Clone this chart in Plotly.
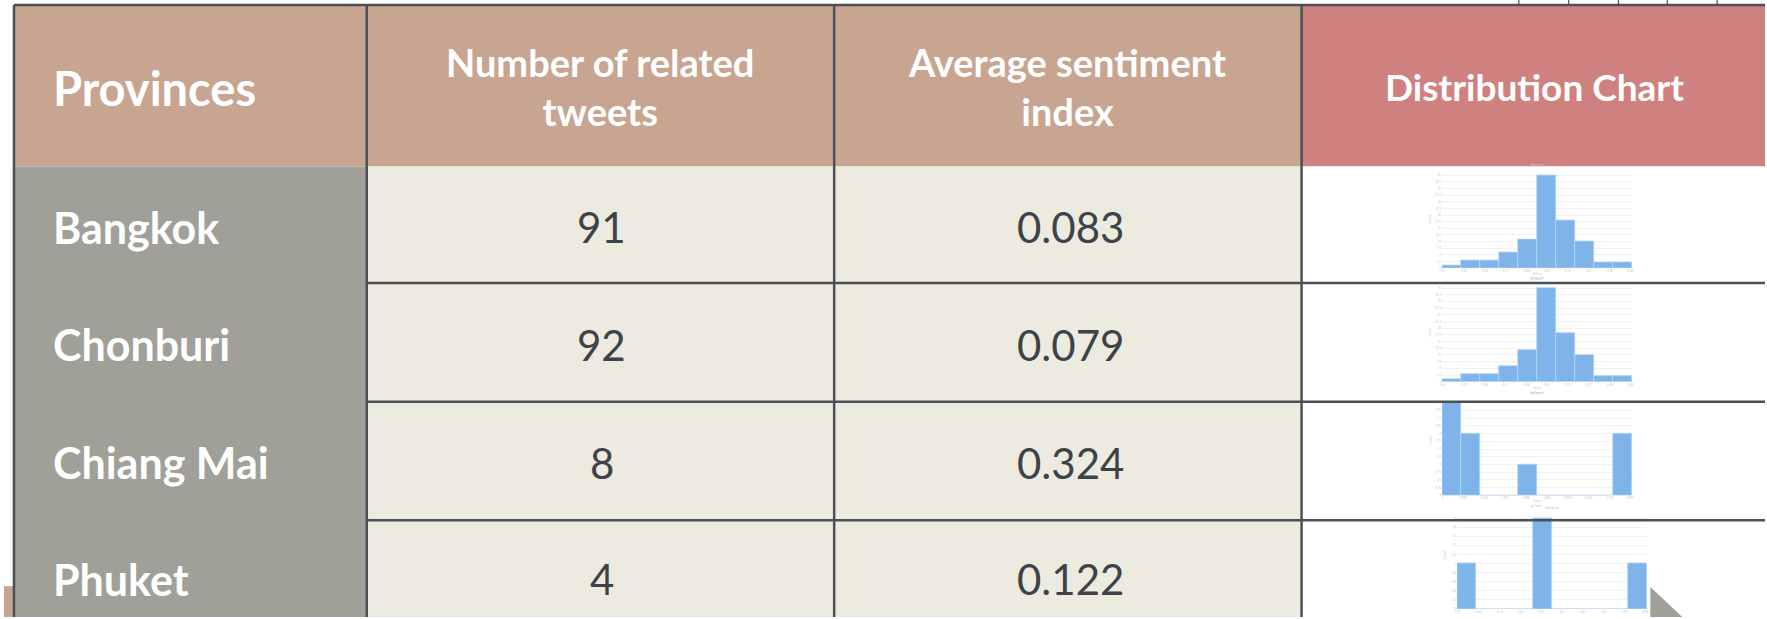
import plotly.graph_objects as go

W, H = 1767, 619

# ---------------- data ----------------
provinces = ["Bangkok", "Chonburi", "Chiang Mai", "Phuket"]
tweet_counts = [91, 92, 8, 4]
avg_sentiment = ["0.083", "0.079", "0.324", "0.122"]
headers = ["Provinces", "Number of related<br>tweets", "Average sentiment<br>index", "Distribution Chart"]

# histogram bin counts (10 bins each)
bangkok_bins = [1, 3, 3, 6, 11, 35, 18, 10, 2, 2]
chonburi_bins = [1, 3, 3, 6, 12, 35, 18, 10, 2, 2]
chiangmai_bins = [3, 2, 0, 0, 1, 0, 0, 0, 0, 2]
phuket_bins = [1, 0, 0, 0, 2, 0, 0, 0, 0, 1]
# bin start and width (sentiment index) for each histogram
bin_start = [-0.5, -0.5, 0.0, -0.35]
bin_width = [0.1, 0.1, 0.09, 0.1]
hist_counts = [bangkok_bins, chonburi_bins, chiangmai_bins, phuket_bins]

# ---------------- helpers ----------------
def X(px):
    return px / W

def Y(py):
    return 1 - py / H

TAN = "#C8A591"
PINK = "#CF8180"
GREY = "#A0A098"
CREAM = "#EDEADF"
LINE = "#4A5055"
TEXT = "#3D4347"
BLUE = "#7EB4EA"

fig = go.Figure()

shapes = []
def rect(x0, y0, x1, y1, color, layer="below"):
    shapes.append(dict(type="rect", xref="paper", yref="paper",
                       x0=X(x0), x1=X(x1), y0=Y(y1), y1=Y(y0),
                       fillcolor=color, line=dict(width=0), layer=layer))

def line(x0, y0, x1, y1, w=2, color=LINE):
    shapes.append(dict(type="line", xref="paper", yref="paper",
                       x0=X(x0), x1=X(x1), y0=Y(y0), y1=Y(y1),
                       line=dict(color=color, width=w), layer="above"))

# table geometry (pixels)
left, top = 10, 5
cols = [10, 364, 833, 1302, 1767]
header_bottom = 167
rows = [167, 284, 403, 522, 641]

# backgrounds
rect(cols[0], top, cols[3], header_bottom, TAN)
rect(cols[3], top, cols[4], header_bottom, PINK)
rect(cols[0], header_bottom, cols[1], H, GREY)
rect(cols[1], header_bottom, cols[3], H, CREAM)
rect(cols[3], header_bottom, cols[4], H, "#FFFFFF")
# decorative bits at page edges
rect(0, 588, 9, H, TAN)
shapes.append(dict(type="path", xref="paper", yref="paper",
                   path=f"M {X(1652)} {Y(589)} L {X(1684)} {Y(619)} L {X(1652)} {Y(619)} Z",
                   fillcolor=GREY, line=dict(width=0), layer="above"))

# borders
line(left, top, W, top, 2.5)
for cx in cols[:4]:
    line(cx, top, cx, H, 2.5)
for ry in rows[1:4]:
    line(cols[1], ry, W, ry, 2.5)
for vx in [1520, 1570, 1620, 1669, 1719]:
    line(vx, 0, vx, top, 1.2)

annotations = []
def text(x, y, s, size, color="#FFFFFF", bold=False, xanchor="center", family="Lato"):
    annotations.append(dict(xref="paper", yref="paper", x=X(x), y=Y(y), text=(f"<b>{s}</b>" if bold else s),
                            showarrow=False, xanchor=xanchor, yanchor="middle", align="center",
                            font=dict(family=family, size=size, color=color)))

# headers
text(47, 88, headers[0], 47, bold=True, xanchor="left")
text(598, 87, headers[1], 38, bold=True)
text(1067, 87, headers[2], 38, bold=True)
text(1536, 87, headers[3], 37, bold=True)

row_centers = [228, 346, 464, 581]
for i, p in enumerate(provinces):
    cy = row_centers[i]
    text(47, cy, p, 43, bold=True, xanchor="left")
    text(600, cy, str(tweet_counts[i]), 42, color=TEXT)
    text(1070, cy, avg_sentiment[i], 42, color=TEXT)

# mini histogram placement (pixels): x0, x1, top, baseline
mini = [(1443, 1634, 171, 269), (1443, 1634, 284, 383), (1443, 1634, 399, 497), (1458, 1649, 515, 611)]
dticks = [2.5, 2.5, 0.25, 0.2]

layout_axes = {}
for i, counts in enumerate(hist_counts):
    n = i + 1
    xs = [bin_start[i] + bin_width[i] * (k + 0.5) for k in range(len(counts))]
    fig.add_trace(go.Bar(x=xs, y=counts, width=[bin_width[i]] * len(counts),
                         marker=dict(color=BLUE, line=dict(color="#B5D4F4", width=0.8)),
                         xaxis=f"x{n}", yaxis=f"y{n}", showlegend=False, hoverinfo="skip"))
    x0, x1, t, b = mini[i]
    lo = bin_start[i]
    hi = bin_start[i] + bin_width[i] * len(counts)
    layout_axes[f"xaxis{n}"] = dict(domain=[X(x0), X(x1)], anchor=f"y{n}", range=[lo, hi],
                                    showgrid=False, zeroline=False, showline=False,
                                    tickfont=dict(size=3, color="#BBBBBB"), dtick=bin_width[i] * 1.1,
                                    tick0=lo, ticks="", fixedrange=True)
    layout_axes[f"yaxis{n}"] = dict(domain=[Y(b), Y(t)], anchor=f"x{n}", range=[0, max(counts) * 1.053],
                                    showgrid=True, gridcolor="#F1F1F1", gridwidth=1, zeroline=False,
                                    showline=False, dtick=dticks[i], tickfont=dict(size=3, color="#BBBBBB"),
                                    ticks="", fixedrange=True)
    # faint title / legend / axis title specks
    mid = (x0 + x1) / 2
    text(mid, t - 5, "Histogram", 3, color="#C8C8C8")
    if b + 14 < H:
        text(mid, b + 6, "Values", 3, color="#C8C8C8")
        text(mid, b + 11, "▮ Count", 3, color="#A8C8EE")
    annotations.append(dict(xref="paper", yref="paper", x=X(x0 - 8), y=Y((t + b) / 2), text="Count",
                            textangle=-90, showarrow=False, font=dict(size=3, color="#C0C0C0")))

fig.update_layout(
    width=W, height=H,
    margin=dict(l=0, r=0, t=0, b=0),
    paper_bgcolor="#FFFFFF",
    plot_bgcolor="rgba(0,0,0,0)",
    bargap=0,
    shapes=shapes,
    annotations=annotations,
    showlegend=False,
    **layout_axes,
)

fig.write_html("out.html", config={"displayModeBar": False},
               post_script="document.body.style.margin='0';document.body.style.overflow='hidden';")
